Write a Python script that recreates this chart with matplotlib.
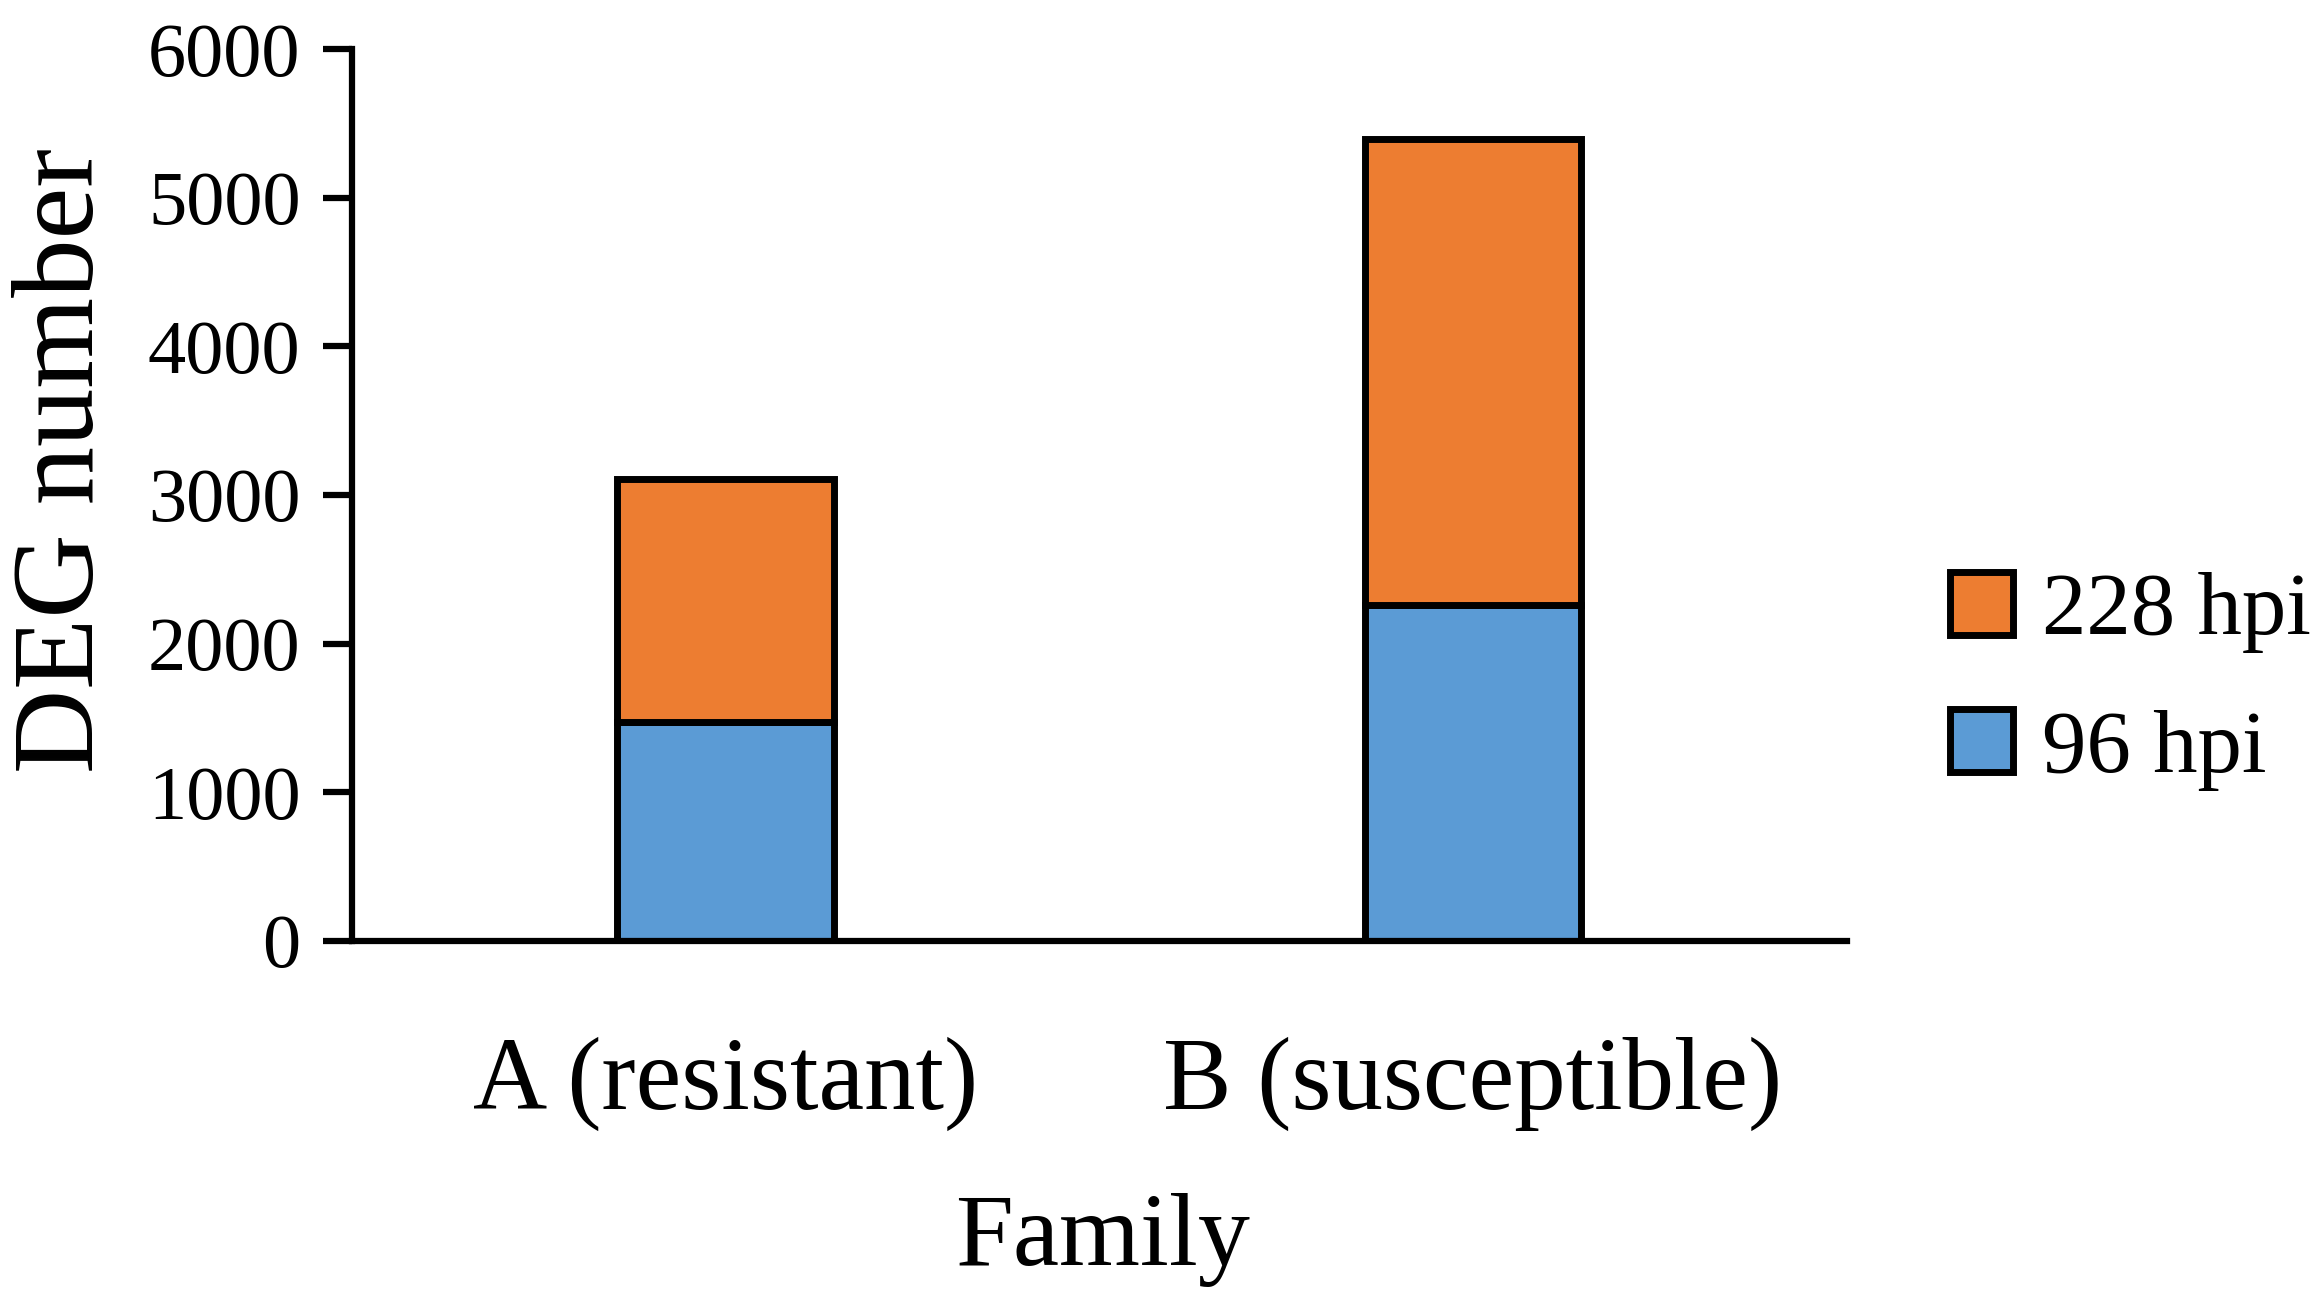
import numpy as np
import matplotlib
matplotlib.use('Agg')
import matplotlib.pyplot as plt
from matplotlib.patches import Patch

plt.rcParams['font.family'] = ['Liberation Serif', 'DejaVu Serif']

# data
families = ['A (resistant)', 'B (susceptible)']
hpi_96 = [1470, 2260]
hpi_228 = [1640, 3135]
series_names = ['96 hpi', '228 hpi']
colors = ['#5B9BD5', '#ED7D31']
yticks = [0, 1000, 2000, 3000, 4000, 5000, 6000]

fig = plt.figure(figsize=(23.2, 13.14), dpi=100)
ax = fig.add_axes([0.1517, 0.2839, 0.6443, 0.6788])

x = np.arange(len(families))
w = 0.29
ax.bar(x, hpi_96, w, color=colors[0], edgecolor='black', linewidth=5,
       label=series_names[0])
ax.bar(x, hpi_228, w, bottom=hpi_96, color=colors[1], edgecolor='black',
       linewidth=5, label=series_names[1])

ax.set_xlim(-0.5, 1.5)
ax.set_ylim(0, 6000)
ax.set_yticks(yticks)
ax.set_xticks(x)
ax.set_xticklabels(families, fontsize=74)
ax.tick_params(axis='y', labelsize=55, length=21, width=4.5, pad=16,
               direction='out')
ax.tick_params(axis='x', length=0, pad=69)

for s in ['top', 'right']:
    ax.spines[s].set_visible(False)
for s in ['left', 'bottom']:
    ax.spines[s].set_linewidth(4.5)

ax.set_ylabel('DEG number', fontsize=84, va='center')
ax.yaxis.set_label_coords(-0.192, 0.539)
ax.set_xlabel('Family', fontsize=75, va='center')
ax.xaxis.set_label_coords(0.502, -0.335)

handles = [Patch(facecolor=colors[1], edgecolor='black', linewidth=5),
           Patch(facecolor=colors[0], edgecolor='black', linewidth=5)]
fig.legend(handles, [series_names[1], series_names[0]], loc='center left',
           bbox_to_anchor=(0.8405, 0.4815), frameon=False, fontsize=64,
           handlelength=0.71, handleheight=0.71, handletextpad=0.33,
           labelspacing=0.63, borderpad=0, borderaxespad=0)

fig.savefig('out.png', dpi=100)
